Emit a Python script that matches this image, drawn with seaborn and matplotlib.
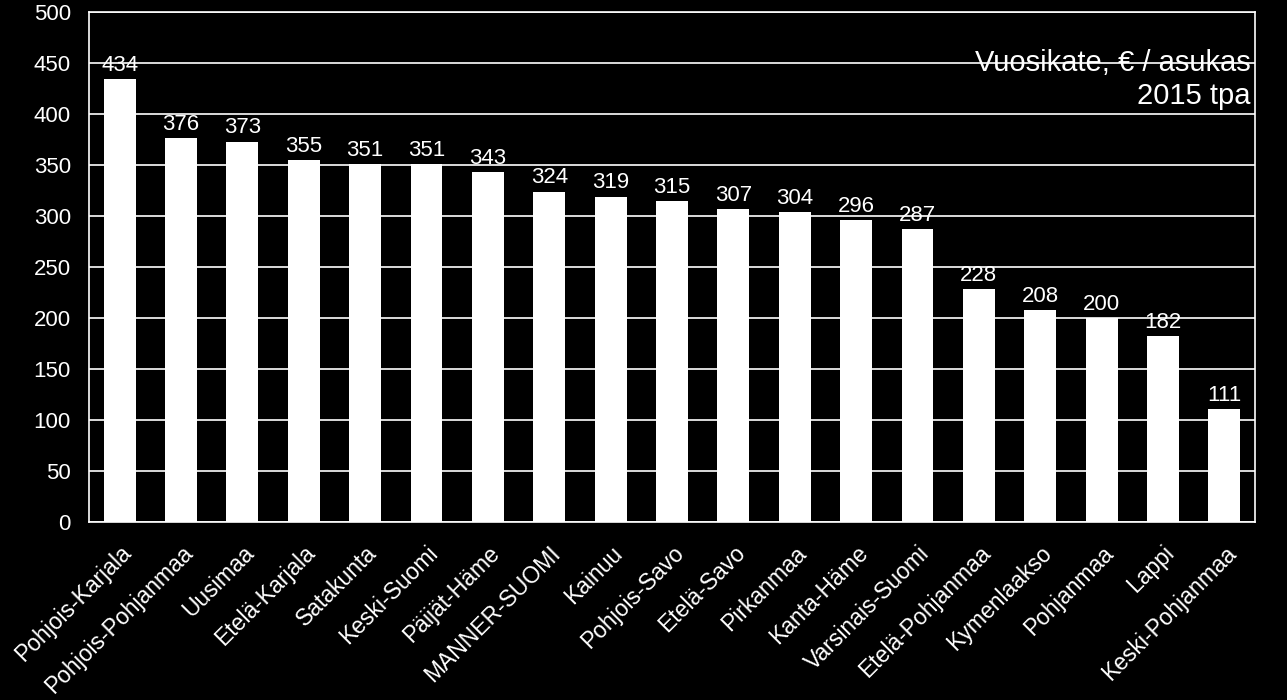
import matplotlib
matplotlib.use("Agg")
import matplotlib.pyplot as plt
import seaborn as sns
import pandas as pd

regions = ["Pohjois-Karjala", "Pohjois-Pohjanmaa", "Uusimaa", "Etelä-Karjala", "Satakunta",
           "Keski-Suomi", "Päijät-Häme", "MANNER-SUOMI", "Kainuu", "Pohjois-Savo", "Etelä-Savo",
           "Pirkanmaa", "Kanta-Häme", "Varsinais-Suomi", "Etelä-Pohjanmaa", "Kymenlaakso",
           "Pohjanmaa", "Lappi", "Keski-Pohjanmaa"]
values = [434, 376, 373, 355, 351, 351, 343, 324, 319, 315, 307, 304, 296, 287, 228, 208, 200, 182, 111]
title_lines = ["Vuosikate, € / asukas", "2015 tpa"]

df = pd.DataFrame({"region": regions, "value": values})

sns.set_theme(style="white")
plt.rcParams['font.family'] = ['Liberation Sans', 'DejaVu Sans']

fig = plt.figure(figsize=(12.87, 7.0), dpi=100, facecolor="black")
ax = fig.add_axes([89/1287, 1 - 522/700, (1255-89)/1287, (522-12)/700])
ax.set_facecolor("black")

sns.barplot(data=df, x="region", y="value", color="white", width=0.52, ax=ax,
            saturation=1, edgecolor="none")

ax.set_ylim(0, 500)
ax.set_yticks(range(0, 501, 50))
ax.set_xlim(-0.5, len(regions) - 0.5)
ax.yaxis.grid(True, color="white", linewidth=1.2)
ax.set_axisbelow(True)
for s in ax.spines.values():
    s.set_color("white")
    s.set_linewidth(1.2)
    s.set_visible(True)

ax.set_xlabel("")
ax.set_ylabel("")
ax.tick_params(axis="y", colors="white", labelsize=16, length=0, pad=13)
ax.tick_params(axis="x", colors="white", labelsize=16.5, length=0, pad=14)
for lbl in ax.get_xticklabels():
    lbl.set_rotation(45)
    lbl.set_ha("right")
    lbl.set_rotation_mode("anchor")

for i, v in enumerate(values):
    ax.text(i, v + 8, str(v), color="white", ha="center", va="baseline", fontsize=16)

ax.text(0.996, 0.868, title_lines[0] + "\n" + title_lines[1], transform=ax.transAxes,
        ha="right", va="center", color="white", fontsize=21, linespacing=1.2)

fig.savefig("out.png", dpi=100, facecolor="black")
